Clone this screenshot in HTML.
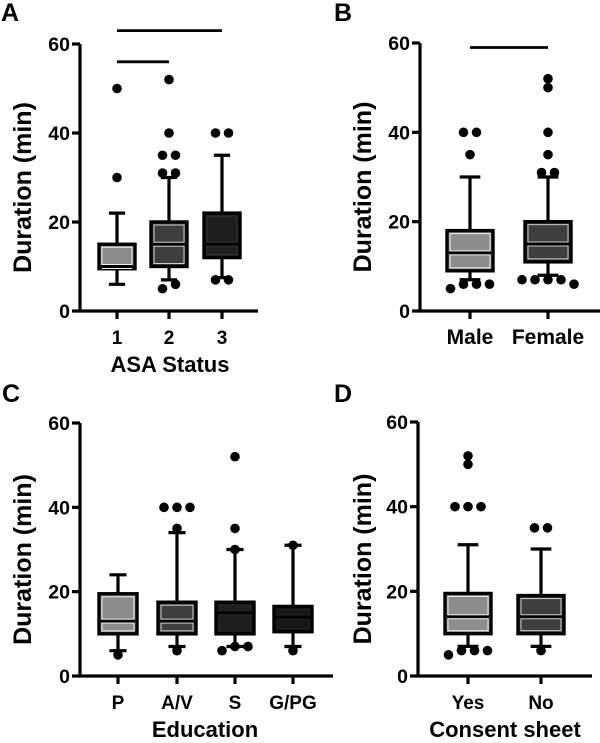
<!DOCTYPE html>
<html><head><meta charset="utf-8"><style>
html,body{margin:0;padding:0;background:#fff;}
svg{display:block;font-family:"Liberation Sans",Arial,sans-serif;font-weight:bold;}
</style></head><body>
<svg id="fig" width="600" height="743" viewBox="0 0 600 743"></svg>
<script>
// Panel A
const catsA = ["1","2","3"];
const q1A = [9.5,10,12], medA = [10,15,15], q3A = [15,20,22], loA = [6,7,7.5], hiA = [22,30,35];
const outA = [[30,50],[5,6,31,31,35,35,40,52],[7,7,40,40]];
// Panel B
const catsB = ["Male","Female"];
const q1B = [9,11], medB = [13,15], q3B = [18,20], loB = [7,8], hiB = [30,30];
const outB = [[5,6,6,6,35,40,40],[7,7,7,7,6,31,31,35,40,50,52]];
// Panel C
const catsC = ["P","A/V","S","G/PG"];
const q1C = [10,10,10,10.5], medC = [13,13,15,14], q3C = [19.5,17.5,17.5,16.5], loC = [6,7,7,7], hiC = [24,34,30,31];
const outC = [[5],[6,35,40,40,40],[6,7,7,30,35,52],[6,31]];
// Panel D
const catsD = ["Yes","No"];
const q1D = [10,10], medD = [14,14], q3D = [19.5,19], loD = [7,7], hiD = [31,30];
const outD = [[5,6,6,6,40,40,40,50,52],[6,35,35]];
const yTicks = [0,20,40,60];

const NS="http://www.w3.org/2000/svg", svg=document.getElementById('fig');
function mk(tag,attrs,parent,text){const e=document.createElementNS(NS,tag);for(const k in attrs)e.setAttribute(k,attrs[k]);if(text!==undefined)e.textContent=text;(parent||svg).appendChild(e);return e;}

function panel(o){
  const g=mk('g',{});
  
  
  const ys=v=>o.y0+(o.y60-o.y0)*v/60;
  const L=mk('text',{x:o.lx,y:o.ly,'font-size':25,fill:'#000'},g,o.letter);
  
  const ya=mk('line',{x1:o.ax,y1:o.y60,x2:o.ax,y2:o.y0+1.5,stroke:'#000','stroke-width':3.2},g);
  
  const xa=mk('line',{x1:o.ax-1.5,y1:o.y0,x2:o.axEnd,y2:o.y0,stroke:'#000','stroke-width':3.2},g);
  
  yTicks.forEach(t=>{
    mk('line',{x1:o.ax-8,y1:ys(t),x2:o.ax,y2:ys(t),stroke:'#000','stroke-width':3.2},g);
    const tl=mk('text',{x:o.ax-10,y:ys(t)+7,'font-size':19.5,'text-anchor':'end'},g,String(t));
    
  });
  const yt=mk('text',{x:0,y:0,'font-size':25,'text-anchor':'middle',transform:`translate(${o.ytx},${(o.y0+o.y60)/2+10}) rotate(-90)`},g,'Duration (min)');
  
  const xt=mk('text',{x:o.xtx,y:o.xty,'font-size':22,'text-anchor':'middle'},g,o.title);
  
  (o.sig||[]).forEach(s=>{
    const l=mk('line',{x1:o.xs[s[0]],x2:o.xs[s[1]],y1:ys(s[2]),y2:ys(s[2]),stroke:'#000','stroke-width':2.8},g);
    
  });
  const hw=o.bw/2;
  o.cats.forEach((c,i)=>{
    const x=o.xs[i];
    mk('line',{x1:x,y1:o.y0,x2:x,y2:o.y0+8,stroke:'#000','stroke-width':3.2},g);
    const cl=mk('text',{x:x,y:o.y0+33,'font-size':o.catSize||19,'text-anchor':'middle'},g,c);
    
    const bg=mk('g',{},g);
    
    
    const ww=hw*0.45;
    mk('line',{x1:x,x2:x,y1:ys(o.hi[i]),y2:ys(o.q3[i]),stroke:'#000','stroke-width':3.2},bg);
    mk('line',{x1:x,x2:x,y1:ys(o.lo[i]),y2:ys(o.q1[i]),stroke:'#000','stroke-width':3.2},bg);
    mk('line',{x1:x-ww,x2:x+ww,y1:ys(o.hi[i]),y2:ys(o.hi[i]),stroke:'#000','stroke-width':3.2},bg);
    mk('line',{x1:x-ww,x2:x+ww,y1:ys(o.lo[i]),y2:ys(o.lo[i]),stroke:'#000','stroke-width':3.2},bg);
    const top=ys(o.q3[i]),bot=ys(o.q1[i]);
    mk('rect',{x:x-hw,y:top,width:o.bw,height:bot-top,fill:o.fills[i],stroke:'#000','stroke-width':3.4},bg);
    mk('rect',{x:x-hw+3,y:top+3,width:o.bw-6,height:Math.max(0,bot-top-6),fill:'none',stroke:o.inner[i],'stroke-width':1},bg);
    mk('line',{x1:x-hw+2,x2:x+hw-2,y1:ys(o.med[i]),y2:ys(o.med[i]),stroke:'#000','stroke-width':3},bg);
    mk('line',{x1:x-hw+3,x2:x+hw-3,y1:ys(o.med[i])-2,y2:ys(o.med[i])-2,stroke:o.inner[i],'stroke-width':1},bg);
    mk('line',{x1:x-hw+3,x2:x+hw-3,y1:ys(o.med[i])+2,y2:ys(o.med[i])+2,stroke:o.inner[i],'stroke-width':1},bg);
    const rows=[];
    o.out[i].forEach(v=>{const r=rows.find(r=>Math.abs(ys(r[0])-ys(v))<5);if(r)r.push(v);else rows.push([v]);});
    rows.forEach(r=>{
      const n=r.length;
      r.forEach((v,k)=>{
        const dx=(k-(n-1)/2)*13;
        const d=mk('circle',{cx:x+dx,cy:ys(v),r:4.8,fill:'#000'},bg);
        
      });
    });
  });
}

panel({letter:'A',lx:1,ly:21,ax:80,axEnd:258,y0:311,y60:44,xs:[117,169,222],bw:36,cats:catsA,
  q1:q1A,med:medA,q3:q3A,lo:loA,hi:hiA,out:outA,fills:['#8c8c8c','#3e3e3e','#1e1e1e'],inner:['#eee','#ccc','#333'],
  ytx:31,xtx:170,xty:372,title:'ASA Status',sig:[[0,1,56],[0,2,63]]});
panel({letter:'B',lx:334,ly:21,ax:420,axEnd:600,y0:311,y60:43,xs:[470,548],bw:46,cats:catsB,catSize:21,
  q1:q1B,med:medB,q3:q3B,lo:loB,hi:hiB,out:outB,fills:['#8c8c8c','#3e3e3e'],inner:['#eee','#ccc'],
  ytx:371,xtx:509,xty:380,title:'',sig:[[0,1,59]]});
panel({letter:'C',lx:2,ly:402,ax:80,axEnd:333,y0:676,y60:423,xs:[118,177,235,293],bw:38,cats:catsC,
  q1:q1C,med:medC,q3:q3C,lo:loC,hi:hiC,out:outC,fills:['#8c8c8c','#3e3e3e','#1e1e1e','#161616'],inner:['#eee','#ccc','#222','#222'],
  ytx:31,xtx:205,xty:737,title:'Education'});
panel({letter:'D',lx:334,ly:402,ax:418,axEnd:592,y0:676,y60:422,xs:[468,541],bw:46,cats:catsD,
  q1:q1D,med:medD,q3:q3D,lo:loD,hi:hiD,out:outD,fills:['#8c8c8c','#3e3e3e'],inner:['#eee','#ccc'],
  ytx:371,xtx:505,xty:737,title:'Consent sheet'});
</script>
</body></html>
